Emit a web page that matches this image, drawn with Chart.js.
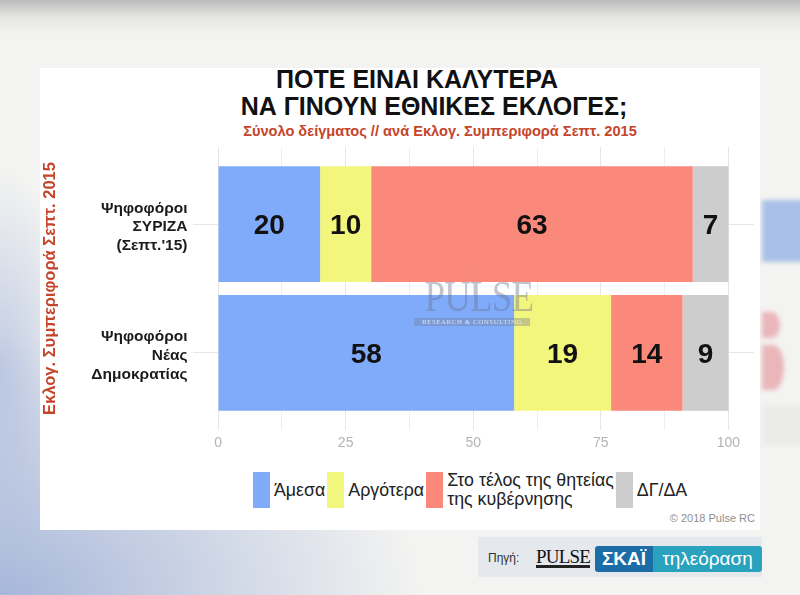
<!DOCTYPE html>
<html lang="el">
<head>
<meta charset="utf-8">
<title>Πότε είναι καλύτερα να γίνουν εθνικές εκλογές</title>
<script src="https://cdn.jsdelivr.net/npm/chart.js@4.4.1/dist/chart.umd.min.js"></script>
<style>
  html, body { margin: 0; padding: 0; }
  body {
    width: 800px; height: 595px; position: relative; overflow: hidden;
    font-family: "Liberation Sans", Arial, sans-serif;
    background:
      radial-gradient(ellipse 420px 260px at 0% 100%, rgba(140, 162, 210, 0.75), rgba(140, 162, 210, 0) 100%),
      radial-gradient(ellipse 80px 200px at 0% 62%, rgba(150, 170, 215, 0.55), rgba(150, 170, 215, 0) 100%),
      linear-gradient(#bcbcbc 0, #e6e6e4 18px, #f3f3f1 34px, #f3f3f1 100%);
  }
  .bg-blue { position: absolute; left: 762px; top: 200px; width: 60px; height: 62px; background: #a9c1e8; filter: blur(2px); }
  .bg-pink1 { position: absolute; left: 762px; top: 312px; width: 18px; height: 26px; background: #e9b6ba; border-radius: 0 50% 50% 0; filter: blur(2px); }
  .bg-pink2 { position: absolute; left: 762px; top: 345px; width: 22px; height: 45px; background: #e9b6ba; border-radius: 0 50% 50% 0; filter: blur(2px); }
  .bg-grey { position: absolute; left: 762px; top: 405px; width: 60px; height: 40px; background: #ebebea; filter: blur(2px); }
  .card { position: absolute; left: 40px; top: 68px; width: 720px; height: 462px; background: #fff; }
  .title { position: absolute; transform: translateX(-50%); white-space: nowrap; font-weight: bold; color: #111; font-size: 25px; line-height: 27px; }
  .subtitle { position: absolute; transform: translateX(-50%); white-space: nowrap; font-weight: bold; color: #c4452a; font-size: 14.6px; line-height: 16px; }
  .chart-wrap { position: absolute; left: 36px; top: 140px; width: 724px; height: 316px; }
  .wm { position: absolute; left: 414px; top: 274px; width: 116px; pointer-events: none; text-align: center; }
  .wm-word { font-family: "Liberation Serif", "DejaVu Serif", serif; font-size: 45px; line-height: 44px; color: rgba(105, 115, 142, 0.42); transform: scaleX(0.82); letter-spacing: -1px; }
  .wm-sub { margin-top: 0; height: 8px; background: rgba(115, 124, 148, 0.38); color: rgba(255, 255, 255, 0.7); font-family: "Liberation Serif", serif; font-size: 7px; line-height: 8px; letter-spacing: 0.5px; }
  .wm-flame { position: absolute; left: 56px; top: -14px; width: 2px; height: 18px; background: rgba(230, 150, 110, 0.35); }
  .legend { position: absolute; left: 253px; top: 471px; display: flex; align-items: center; }
  .legend .key { width: 17px; height: 36px; margin-right: 4px; }
  .legend .txt { font-size: 17.8px; line-height: 19px; color: #222; margin-right: 2px; white-space: pre-line; }
  .copy { position: absolute; right: 45px; top: 512px; font-size: 11px; color: #8e8e8e; }
  .source { position: absolute; left: 478px; top: 537px; width: 284px; height: 40px; background: #e5e8ec; }
  .source .lbl { position: absolute; left: 10px; top: 14px; font-size: 12px; color: #333; }
  .source .pulse { position: absolute; left: 58px; top: 9px; font-family: "Liberation Serif", serif; font-size: 19px; color: #111; letter-spacing: -0.8px; }
  .source .pulse::after { content: ""; position: absolute; left: 0; right: 0; bottom: 0; height: 3px; background: #222; }
  .source .skai { position: absolute; left: 117px; top: 9px; width: 58px; height: 26px; background: #1c6da6; color: #fff; font-weight: bold; font-size: 19px; line-height: 26px; text-align: center; border-radius: 3px 0 0 3px; }
  .source .tv { position: absolute; left: 175px; top: 9px; width: 109px; height: 26px; background: #29a3bd; color: #fff; font-size: 19px; line-height: 26px; text-align: center; border-radius: 0 3px 3px 0; }
</style>
</head>
<body>
  <div class="bg-blue"></div>
  <div class="bg-pink1"></div>
  <div class="bg-pink2"></div>
  <div class="bg-grey"></div>
  <div class="card"></div>

  <div class="title" style="left:417px; top:66px;">ΠΟΤΕ ΕΙΝΑΙ ΚΑΛΥΤΕΡΑ</div>
  <div class="title" style="left:434px; top:93px;">ΝΑ ΓΙΝΟΥΝ ΕΘΝΙΚΕΣ ΕΚΛΟΓΕΣ;</div>
  <div class="subtitle" style="left:440px; top:123px;">Σύνολο δείγματος // ανά Εκλογ. Συμπεριφορά Σεπτ. 2015</div>

  <div class="chart-wrap"><canvas id="chart"></canvas></div>

  <div class="wm">
    <div class="wm-flame"></div>
    <div class="wm-word">PULSE</div>
    <div class="wm-sub">RESEARCH &amp; CONSULTING</div>
  </div>

  <div class="legend" id="legend"></div>
  <div class="copy">© 2018 Pulse RC</div>

  <div class="source">
    <span class="lbl">Πηγή:</span>
    <span class="pulse">PULSE</span>
    <span class="skai">ΣΚΑΪ</span>
    <span class="tv">τηλεόραση</span>
  </div>

<script>
// voter groups (top to bottom) and answers
const groups = [["Ψηφοφόροι", "ΣΥΡΙΖΑ", "(Σεπτ.'15)"], ["Ψηφοφόροι", "Νέας", "Δημοκρατίας"]];
const answers = ["Άμεσα", "Αργότερα", "Στο τέλος της θητείας\nτης κυβέρνησης", "ΔΓ/ΔΑ"];

// % per group
const amesa = [20, 58];
const argotera = [10, 19];
const telos = [63, 14];
const dgda = [7, 9];

const xLabels = [0, 25, 50, 75, 100];
const xGrid = [0, 12.5, 25, 37.5, 50, 62.5, 75, 87.5, 100];

const series = [amesa, argotera, telos, dgda];
const colours = ["#80abfb", "#f3f67c", "#fa897c", "#cdcdcd"];

const segmentLabels = {
  id: "segmentLabels",
  afterDatasetsDraw(chart) {
    const { ctx } = chart;
    ctx.save();
    ctx.font = "bold 28px 'Liberation Sans', Arial, sans-serif";
    ctx.fillStyle = "#111";
    ctx.textAlign = "center";
    ctx.textBaseline = "middle";
    chart.data.datasets.forEach((ds, di) => {
      chart.getDatasetMeta(di).data.forEach((bar, i) => {
        const p = bar.getCenterPoint();
        ctx.fillText(String(ds.data[i].x), p.x, p.y + 2);
      });
    });
    ctx.restore();
  },
};

// no label overhang padding: the panel is sized by hand
const noPad = (s) => { s.paddingTop = 0; s.paddingBottom = 0; s.paddingLeft = 0; s.paddingRight = 0; };

const chart = new Chart(document.getElementById("chart"), {
  type: "bar",
  data: {
    datasets: series.map((vals, k) => ({
      label: answers[k],
      data: vals.map((v, i) => ({ x: v, y: i + 1 })),
      backgroundColor: colours[k],
      borderWidth: 0,
      barPercentage: 0.9,
      categoryPercentage: 1,
    })),
  },
  options: {
    indexAxis: "y",
    responsive: true,
    maintainAspectRatio: false,
    animation: false,
    layout: { padding: { top: 7, right: 6, left: 0, bottom: 0 } },
    plugins: { legend: { display: false }, tooltip: { enabled: false } },
    scales: {
      x: {
        type: "linear", min: -5, max: 105, stacked: true,
        afterBuildTicks: (s) => { s.ticks = xGrid.map((v) => ({ value: v })); },
        afterFit: (s) => { s.height = 26; noPad(s); },
        ticks: {
          callback: (v) => (xLabels.includes(v) ? String(v) : ""),
          color: "#b4b4b4", font: { size: 14 }, padding: 5, autoSkip: false, maxRotation: 0,
        },
        grid: { color: (c) => (xLabels.includes(c.tick.value) ? "#e6e6e6" : "#efefef"), drawTicks: false },
        border: { display: false },
      },
      y: {
        type: "linear", reverse: true, min: 0.4, max: 2.6, stacked: true, offset: false,
        afterBuildTicks: (s) => { s.ticks = groups.map((_, i) => ({ value: i + 1 })); },
        afterFit: (s) => { s.width = 156.5; noPad(s); },
        ticks: {
          callback: (v) => groups[v - 1],
          color: "#1b1b1b", font: { size: 15.5, weight: "bold", lineHeight: 1.22 }, padding: 5, autoSkip: false,
          labelOffset: 3,
        },
        grid: { color: "#e6e6e6", drawTicks: false, offset: false },
        border: { display: false },
        title: {
          display: true, text: "Εκλογ. Συμπεριφορά Σεπτ. 2015", color: "#c4452a",
          font: { size: 16.5, weight: "bold" }, padding: { top: 5, bottom: 0 },
        },
      },
    },
  },
  plugins: [segmentLabels],
});

// html legend built from the datasets (two-line label needs it)
document.getElementById("legend").innerHTML = chart.data.datasets
  .map((ds) => `<span class="key" style="background:${ds.backgroundColor}"></span><span class="txt">${ds.label}</span>`)
  .join("");
</script>
</body>
</html>
